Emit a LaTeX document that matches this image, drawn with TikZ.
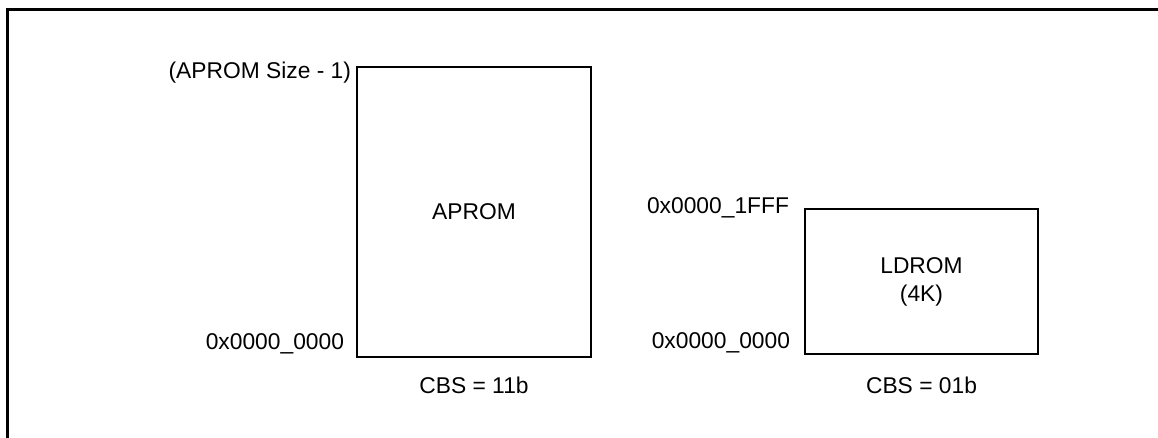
\documentclass[tikz,border=0pt]{standalone}
\usepackage{fontspec}
\setmainfont{Liberation Sans}
\usepackage{tikz}

\begin{document}
\begin{tikzpicture}[
    x=1pt, y=-1pt,
    memblock/.style = {draw, line width=1.6pt, inner sep=0pt, align=center,
                       font=\fontsize{22.8}{28}\selectfont},
    addr/.style     = {inner sep=0pt, font=\fontsize{22.8}{28}\selectfont},
    frame/.style    = {line width=3pt}
  ]
    \useasboundingbox (0,0) rectangle (1158,438);

    %% ---- outer frame (cut off at right and bottom) ----
    \draw[frame] (7,440) -- (7,10) -- (1160,10);

    %% ---- APROM, CBS = 11b ----
    \node[memblock, minimum width=234pt, minimum height=290pt] (aprom) at (474,212) {APROM};
    \node[addr, anchor=east] (aprom_top) at ([xshift=-5pt,yshift=-6pt]aprom.north west) {(APROM Size - 1)};
    \node[addr, anchor=east] (aprom_low) at ([xshift=-12pt,yshift=14pt]aprom.south west) {0x0000\_0000};
    \node[addr] (cbs_a) at ([yshift=-28pt]aprom.south) {CBS = 11b};

    %% ---- LDROM, CBS = 01b ----
    \node[memblock, minimum width=233pt, minimum height=145pt] (ldrom) at (921.5,281.5) {LDROM\\(4K)};
    \node[addr, anchor=east] (ldrom_top) at ([xshift=-15pt]ldrom.north west) {0x0000\_1FFF};
    \node[addr, anchor=east] (ldrom_low) at ([xshift=-14pt,yshift=12pt]ldrom.south west) {0x0000\_0000};
    \node[addr] (cbs_b) at ([yshift=-31pt]ldrom.south) {CBS = 01b};
  \end{tikzpicture}
\end{document}
